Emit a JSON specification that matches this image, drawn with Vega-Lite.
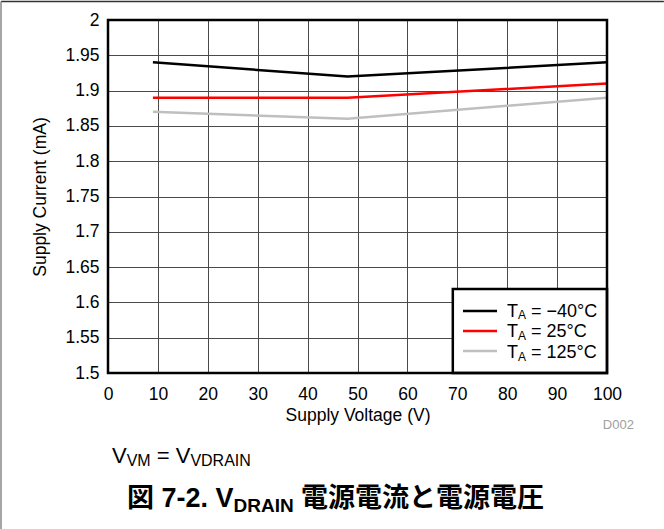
{
  "$schema": "https://vega.github.io/schema/vega-lite/v6.json",
  "autosize": {"type": "none"},
  "width": 499,
  "height": 353,
  "padding": {"left": 108, "top": 20, "right": 57, "bottom": 156},
  "background": "white",
  "config": {
    "font": "Liberation Sans",
    "view": {"stroke": null},
    "axis": {
      "labelFont": "Liberation Sans",
      "titleFont": "Liberation Sans",
      "labelFontSize": 17.5,
      "titleFontSize": 17.5,
      "titleFontWeight": "normal",
      "labelColor": "black",
      "titleColor": "black",
      "ticks": false,
      "tickSize": 0,
      "domain": false,
      "grid": true,
      "gridColor": "#4a4a4a",
      "gridWidth": 1,
      "gridOpacity": 1,
      "labelOverlap": false,
      "labelFlush": false,
      "tickCount": 30
    },
    "axisX": {"labelPadding": 12, "titlePadding": 4},
    "axisY": {"format": ".2~f", "labelPadding": 9, "titlePadding": 15}
  },
  "data": {
    "values": [
      {"v": 9, "i": 1.94, "t": "−40°C"},
      {"v": 48, "i": 1.92, "t": "−40°C"},
      {"v": 100, "i": 1.94, "t": "−40°C"},
      {"v": 9, "i": 1.89, "t": "25°C"},
      {"v": 48, "i": 1.89, "t": "25°C"},
      {"v": 100, "i": 1.91, "t": "25°C"},
      {"v": 9, "i": 1.87, "t": "125°C"},
      {"v": 48, "i": 1.86, "t": "125°C"},
      {"v": 100, "i": 1.89, "t": "125°C"}
    ]
  },
  "layer": [
    {
      "mark": {"type": "line", "strokeWidth": 2.5},
      "encoding": {
        "x": {
          "field": "v", "type": "quantitative",
          "scale": {"domain": [0, 100], "nice": false},
          "axis": {
            "values": [0, 10, 20, 30, 40, 50, 60, 70, 80, 90, 100],
            "tickCount": 30,
            "title": "Supply Voltage (V)"
          }
        },
        "y": {
          "field": "i", "type": "quantitative",
          "scale": {"domain": [1.5, 2], "nice": false, "zero": false},
          "axis": {
            "values": [1.5, 1.55, 1.6, 1.65, 1.7, 1.75, 1.8, 1.85, 1.9, 1.95, 2],
            "tickCount": 30,
            "format": ".2~f",
            "title": "Supply Current (mA)"
          }
        },
        "color": {
          "field": "t", "type": "nominal",
          "scale": {"domain": ["−40°C", "25°C", "125°C"], "range": ["#000000", "#ff0000", "#bfbfbf"]},
          "legend": null
        }
      }
    },
    {
      "data": {"values": [{}]},
      "mark": {"type": "rect", "fill": "white", "stroke": "black", "strokeWidth": 2.5},
      "encoding": {"x": {"datum": 69.1}, "x2": {"datum": 100}, "y": {"datum": 1.5}, "y2": {"datum": 1.619}}
    },
    {
      "data": {"values": [{}]},
      "mark": {"type": "rule", "color": "#000000", "strokeWidth": 2.5},
      "encoding": {"x": {"datum": 71.14}, "x2": {"datum": 77.96}, "y": {"datum": 1.58782}}
    },
    {
      "data": {"values": [{}]},
      "mark": {"type": "rule", "color": "#ff0000", "strokeWidth": 2.5},
      "encoding": {"x": {"datum": 71.14}, "x2": {"datum": 77.96}, "y": {"datum": 1.55949}}
    },
    {
      "data": {"values": [{}]},
      "mark": {"type": "rule", "color": "#bfbfbf", "strokeWidth": 2.5},
      "encoding": {"x": {"datum": 71.14}, "x2": {"datum": 77.96}, "y": {"datum": 1.53116}}
    },
    {
      "data": {"values": [{}]},
      "mark": {"type": "text", "text": "T", "fontSize": 18, "align": "left", "baseline": "alphabetic", "color": "black"},
      "encoding": {"x": {"datum": 79.96}, "y": {"datum": 1.57975}}
    },
    {
      "data": {"values": [{}]},
      "mark": {"type": "text", "text": "A", "fontSize": 12, "align": "left", "baseline": "alphabetic", "color": "black"},
      "encoding": {"x": {"datum": 82.16}, "y": {"datum": 1.57578}}
    },
    {
      "data": {"values": [{}]},
      "mark": {"type": "text", "text": "= −40°C", "fontSize": 18, "align": "left", "baseline": "alphabetic", "color": "black"},
      "encoding": {"x": {"datum": 84.77}, "y": {"datum": 1.57975}}
    },
    {
      "data": {"values": [{}]},
      "mark": {"type": "text", "text": "T", "fontSize": 18, "align": "left", "baseline": "alphabetic", "color": "black"},
      "encoding": {"x": {"datum": 79.96}, "y": {"datum": 1.55057}}
    },
    {
      "data": {"values": [{}]},
      "mark": {"type": "text", "text": "A", "fontSize": 12, "align": "left", "baseline": "alphabetic", "color": "black"},
      "encoding": {"x": {"datum": 82.16}, "y": {"datum": 1.54674}}
    },
    {
      "data": {"values": [{}]},
      "mark": {"type": "text", "text": "= 25°C", "fontSize": 18, "align": "left", "baseline": "alphabetic", "color": "black"},
      "encoding": {"x": {"datum": 84.77}, "y": {"datum": 1.55057}}
    },
    {
      "data": {"values": [{}]},
      "mark": {"type": "text", "text": "T", "fontSize": 18, "align": "left", "baseline": "alphabetic", "color": "black"},
      "encoding": {"x": {"datum": 79.96}, "y": {"datum": 1.52082}}
    },
    {
      "data": {"values": [{}]},
      "mark": {"type": "text", "text": "A", "fontSize": 12, "align": "left", "baseline": "alphabetic", "color": "black"},
      "encoding": {"x": {"datum": 82.16}, "y": {"datum": 1.517}}
    },
    {
      "data": {"values": [{}]},
      "mark": {"type": "text", "text": "= 125°C", "fontSize": 18, "align": "left", "baseline": "alphabetic", "color": "black"},
      "encoding": {"x": {"datum": 84.77}, "y": {"datum": 1.52082}}
    },
    {
      "data": {"values": [{}]},
      "mark": {"type": "rect", "fill": null, "fillOpacity": 0, "stroke": "black", "strokeWidth": 2.5},
      "encoding": {"x": {"datum": 0}, "x2": {"datum": 100}, "y": {"datum": 1.5}, "y2": {"datum": 2}}
    },
    {
      "data": {"values": [{}]},
      "mark": {"type": "text", "text": "D002", "fontSize": 13, "align": "right", "baseline": "alphabetic", "color": "#a0a0a0"},
      "encoding": {"x": {"datum": 105.4}, "y": {"datum": 1.42068}}
    },
    {
      "data": {"values": [{}]},
      "mark": {"type": "text", "text": "V", "fontSize": 22, "align": "left", "baseline": "alphabetic", "color": "black"},
      "encoding": {"x": {"datum": 0.8016}, "y": {"datum": 1.37252}}
    },
    {
      "data": {"values": [{}]},
      "mark": {"type": "text", "text": "VM", "fontSize": 16, "align": "left", "baseline": "alphabetic", "color": "black"},
      "encoding": {"x": {"datum": 3.747}, "y": {"datum": 1.36827}}
    },
    {
      "data": {"values": [{}]},
      "mark": {"type": "text", "text": "= V", "fontSize": 22, "align": "left", "baseline": "alphabetic", "color": "black"},
      "encoding": {"x": {"datum": 9.78}, "y": {"datum": 1.37252}}
    },
    {
      "data": {"values": [{}]},
      "mark": {"type": "text", "text": "VDRAIN", "fontSize": 16, "align": "left", "baseline": "alphabetic", "color": "black"},
      "encoding": {"x": {"datum": 16.51}, "y": {"datum": 1.36827}}
    },
    {
      "data": {"values": [{}]},
      "mark": {"type": "text", "text": "図 7-2. V", "font": "Liberation Sans, Noto Sans CJK JP", "fontSize": 27, "fontWeight": "bold", "align": "left", "baseline": "alphabetic", "color": "black"},
      "encoding": {"x": {"datum": 3.808}, "y": {"datum": 1.3102}}
    },
    {
      "data": {"values": [{}]},
      "mark": {"type": "text", "text": "DRAIN", "fontSize": 19, "fontWeight": "bold", "align": "left", "baseline": "alphabetic", "color": "black"},
      "encoding": {"x": {"datum": 25.15}, "y": {"datum": 1.30382}}
    },
    {
      "data": {"values": [{}]},
      "mark": {"type": "text", "text": "電源電流と電源電圧", "font": "Noto Sans CJK JP", "fontSize": 27, "fontWeight": "bold", "align": "left", "baseline": "alphabetic", "color": "black"},
      "encoding": {"x": {"datum": 38.68}, "y": {"datum": 1.3102}}
    },
    {
      "data": {"values": [{}]},
      "mark": {"type": "rule", "color": "#333333", "strokeWidth": 1.5},
      "encoding": {"x": {"datum": -21.44}, "x2": {"datum": 111.4}, "y": {"datum": 2.0262}}
    },
    {
      "data": {"values": [{}]},
      "mark": {"type": "rule", "color": "#888888", "strokeWidth": 1.5},
      "encoding": {"x": {"datum": -21.44}, "y": {"datum": 2.0262}, "y2": {"datum": 1.279}}
    }
  ]
}
